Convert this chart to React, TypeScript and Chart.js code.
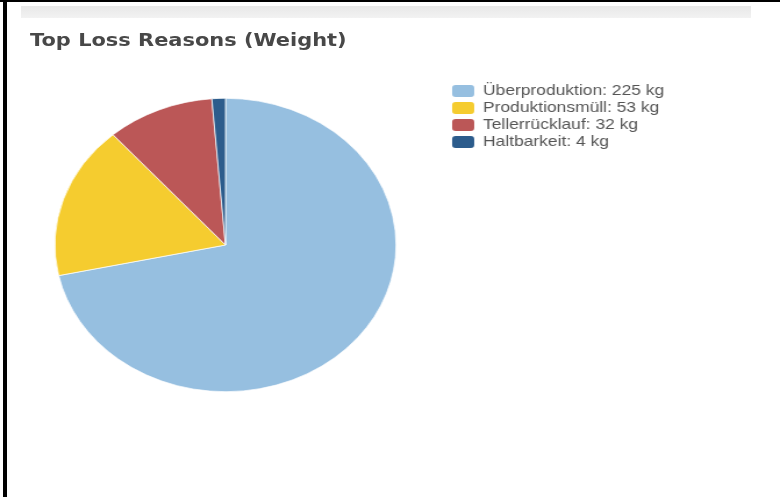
import React, { useEffect, useRef } from "react";
import { Chart, registerables } from "chart.js";

Chart.register(...registerables);

const titleText = "Top Loss Reasons (Weight)";
const categories = ["Überproduktion", "Produktionsmüll", "Tellerrücklauf", "Haltbarkeit"];
const weightsKg = [225, 53, 32, 4];
const unitLabel = "kg";
const sliceColors = ["#96bfe0", "#f5cc2f", "#bb5757", "#2c5c8c"];

// The reference picture is horizontally stretched; draw on a narrower canvas and stretch it.
const PAGE_W = 780;
const PAGE_H = 497;
const CANVAS_W = 671;
const STRETCH = PAGE_W / CANVAS_W;

export default function App() {
  const ref = useRef<HTMLCanvasElement>(null);

  useEffect(() => {
    if (!ref.current) return;
    const baseGen = (Chart.overrides as any).doughnut.plugins.legend.labels.generateLabels;
    const chart = new Chart(ref.current, {
      type: "pie",
      data: {
        labels: categories,
        datasets: [
          {
            data: weightsKg,
            backgroundColor: sliceColors,
            borderColor: "rgba(255,255,255,0.7)",
            borderWidth: 1,
            hoverOffset: 0,
            radius: "90%",
          } as any,
        ],
      },
      options: {
        responsive: false,
        animation: false,
        events: [],
        layout: { padding: { left: 1, top: 81.5, right: 89.6, bottom: 88.5 } },
        plugins: {
          title: { display: false },
          tooltip: { enabled: false },
          legend: {
            position: "right",
            align: "start",
            labels: {
              boxWidth: 19,
              boxHeight: 12,
              padding: 2,
              color: "#555555",
              font: { family: '"Liberation Sans", Arial, sans-serif', size: 15 },
              useBorderRadius: true,
              borderRadius: 3,
              generateLabels: (c: any) =>
                baseGen(c).map((it: any, i: number) => ({
                  ...it,
                  text: `${categories[i]}: ${weightsKg[i]} ${unitLabel}`,
                  lineWidth: 0,
                  borderRadius: 3,
                })),
            },
          },
        },
      },
    });
    return () => chart.destroy();
  }, []);

  return (
    <div
      style={{
        position: "fixed",
        left: 0,
        top: 0,
        width: PAGE_W,
        height: PAGE_H,
        background: "#ffffff",
        overflow: "hidden",
      }}
    >
      <div style={{ position: "absolute", left: 0, top: 0, width: PAGE_W, height: 2, background: "#000" }} />
      <div style={{ position: "absolute", left: 3, top: 0, width: 4, height: PAGE_H, background: "#000" }} />
      <div
        style={{
          position: "absolute",
          left: 21,
          top: 6,
          width: 730,
          height: 12,
          background: "linear-gradient(#e8e8e8, #f2f2f2)",
        }}
      />
      <canvas
        ref={ref}
        width={CANVAS_W}
        height={PAGE_H}
        style={{ position: "absolute", left: 0, top: 0, width: PAGE_W + "px", height: PAGE_H + "px" }}
      />
      <div
        style={{
          position: "absolute",
          left: 30,
          top: 31,
          whiteSpace: "nowrap",
          font: 'bold 18px "DejaVu Sans", Verdana, sans-serif',
          lineHeight: "18px",
          color: "#484848",
          transform: `scaleX(${STRETCH})`,
          transformOrigin: "left top",
        }}
      >
        {titleText}
      </div>
    </div>
  );
}
